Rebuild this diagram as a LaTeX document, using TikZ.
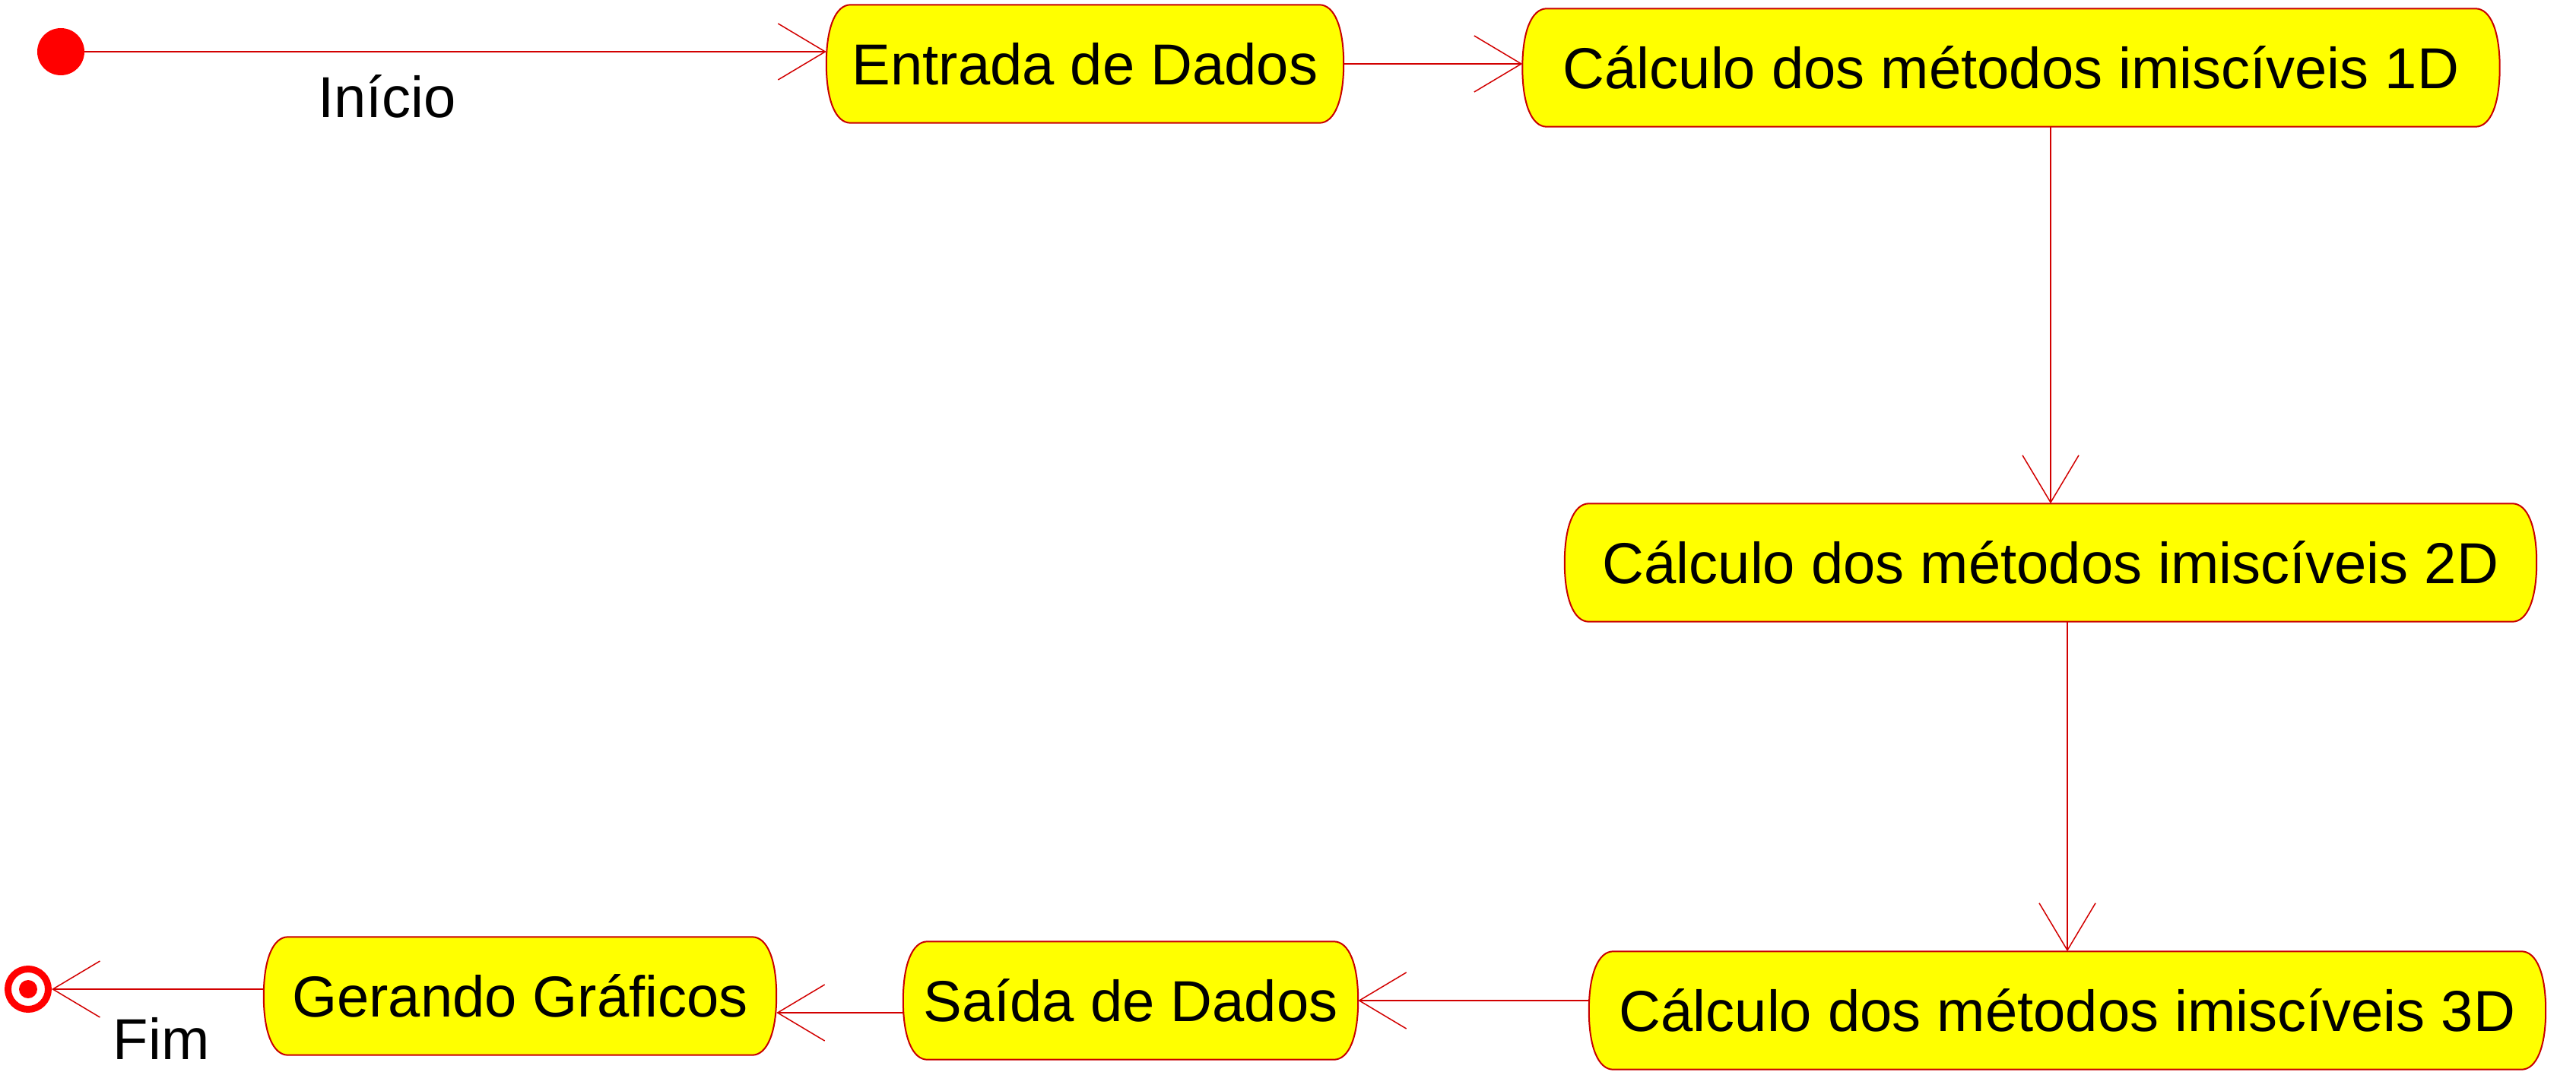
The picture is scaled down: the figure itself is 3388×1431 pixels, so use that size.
\documentclass[tikz,border=0pt]{standalone}
\usepackage{fontspec}
\setmainfont{Liberation Sans}
\usetikzlibrary{arrows.meta,calc,backgrounds}
\definecolor{lineRed}{RGB}{210,0,0}
\definecolor{boxBorder}{RGB}{200,0,0}
\definecolor{boxFill}{RGB}{255,255,0}
\newcommand\actoutline[1]{%
  \path[boxpath]
    ($(#1.north west)+(32,0)$) -- ($(#1.north east)+(-32,0)$)
    .. controls ($(#1.north east)+(-12,0)$) and ($(#1.north east)+(0,30)$) .. (#1.east)
    .. controls ($(#1.south east)+(0,-30)$) and ($(#1.south east)+(-12,0)$) .. ($(#1.south east)+(-32,0)$)
    -- ($(#1.south west)+(32,0)$)
    .. controls ($(#1.south west)+(12,0)$) and ($(#1.south west)+(0,-30)$) .. (#1.west)
    .. controls ($(#1.north west)+(0,30)$) and ($(#1.north west)+(12,0)$) .. cycle;}
\begin{document}
\begin{tikzpicture}[x=1pt,y=-1pt,
  actbox/.style={rectangle, inner sep=0pt, minimum height=155pt, text height=55pt, text depth=0pt,
    font=\fontsize{76}{90}\selectfont},
  boxpath/.style={draw=boxBorder, line width=2pt, fill=boxFill},
  flow/.style={draw=lineRed, line width=2pt, -{Straight Barb[length=62pt,width=74pt,line width=1.5pt]}},
  lbl/.style={font=\fontsize{76}{90}\selectfont, inner sep=0pt, anchor=base}
]
\useasboundingbox (0,0) rectangle (3388,1431);
% nodes
\node[circle, fill=red, minimum size=62pt, inner sep=0pt] (start) at (80,68) {};
\node[actbox, minimum width=680pt] (entrada) at (1427,84) {Entrada de Dados};
\node[actbox, minimum width=1285pt] (c1) at (2645,89) {Cálculo dos métodos imiscíveis 1D};
\node[actbox, minimum width=1278pt] (c2) at (2697,740) {Cálculo dos métodos imiscíveis 2D};
\node[actbox, minimum width=1258pt] (c3) at (2719,1329) {Cálculo dos métodos imiscíveis 3D};
\node[actbox, minimum width=598pt] (saida) at (1487,1316) {Saída de Dados};
\node[actbox, minimum width=674pt] (gerando) at (684,1310) {Gerando Gráficos};
\node[circle, draw=red, line width=9pt, fill=white, minimum size=53pt, inner sep=0pt] (fim) at (37,1301) {};
\fill[red] (fim.center) circle[radius=12];
\begin{scope}[on background layer]
  \actoutline{entrada}
  \actoutline{c1}
  \actoutline{c2}
  \actoutline{c3}
  \actoutline{saida}
  \actoutline{gerando}
\end{scope}
% labels
\node[lbl] (linicio) at (509,155) {Início};
\node[lbl] (lfim) at (212,1393) {Fim};
% connectors
\draw[flow] (start) -- (start -| entrada.west);
\draw[flow] (entrada.east) -- (entrada.east -| c1.west);
\draw[flow] (c2.north |- c1.south) -- (c2.north);
\draw[flow] (c3.north |- c2.south) -- (c3.north);
\draw[flow] (c3.west |- saida.east) -- (saida.east);
\coordinate (sw) at ([yshift=-16pt]saida.west);
\draw[flow] (sw) -- (sw -| gerando.east);
\draw[flow] (gerando.west |- fim) -- (fim.east);
\end{tikzpicture}
\end{document}
